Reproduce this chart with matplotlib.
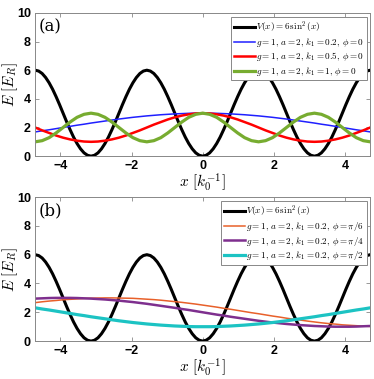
import matplotlib
matplotlib.use("Agg")
import matplotlib.pyplot as plt
import numpy as np

plt.rcParams['mathtext.fontset'] = 'cm'

# x grids (step pi/32 for the potential, pi/16 for the energy curves)
x_fine = np.linspace(-3*np.pi/2, 3*np.pi/2, 97)
x = np.linspace(-3*np.pi/2, 3*np.pi/2, 49)

V = [6.0, 5.94, 5.77, 5.49, 5.12, 4.67, 4.15, 3.59, 3.0, 2.41, 1.85, 1.33, 0.88, 0.51, 0.23, 0.06,
     0.0, 0.06, 0.23, 0.51, 0.88, 1.33, 1.85, 2.41, 3.0, 3.59, 4.15, 4.67, 5.12, 5.49, 5.77, 5.94,
     6.0, 5.94, 5.77, 5.49, 5.12, 4.67, 4.15, 3.59, 3.0, 2.41, 1.85, 1.33, 0.88, 0.51, 0.23, 0.06,
     0.0, 0.06, 0.23, 0.51, 0.88, 1.33, 1.85, 2.41, 3.0, 3.59, 4.15, 4.67, 5.12, 5.49, 5.77, 5.94,
     6.0, 5.94, 5.77, 5.49, 5.12, 4.67, 4.15, 3.59, 3.0, 2.41, 1.85, 1.33, 0.88, 0.51, 0.23, 0.06,
     0.0, 0.06, 0.23, 0.51, 0.88, 1.33, 1.85, 2.41, 3.0, 3.59, 4.15, 4.67, 5.12, 5.49, 5.77, 5.94,
     6.0]

# panel (a)
E_blue = [1.69, 1.77, 1.84, 1.92, 2.0, 2.08, 2.16, 2.23, 2.31, 2.38, 2.45, 2.52, 2.59, 2.65, 2.71, 2.76,
          2.81, 2.85, 2.89, 2.92, 2.95, 2.97, 2.99, 3.0, 3.0, 3.0, 2.99, 2.97, 2.95, 2.92, 2.89, 2.85,
          2.81, 2.76, 2.71, 2.65, 2.59, 2.52, 2.45, 2.38, 2.31, 2.23, 2.16, 2.08, 2.0, 1.92, 1.84, 1.77,
          1.69]
E_red = [2.0, 1.80, 1.62, 1.44, 1.29, 1.17, 1.08, 1.02, 1.0, 1.02, 1.08, 1.17, 1.29, 1.44, 1.62, 1.80,
         2.0, 2.20, 2.38, 2.56, 2.71, 2.83, 2.92, 2.98, 3.0, 2.98, 2.92, 2.83, 2.71, 2.56, 2.38, 2.20,
         2.0, 1.80, 1.62, 1.44, 1.29, 1.17, 1.08, 1.02, 1.0, 1.02, 1.08, 1.17, 1.29, 1.44, 1.62, 1.80,
         2.0]
E_green = [1.0, 1.08, 1.29, 1.62, 2.0, 2.38, 2.71, 2.92, 3.0, 2.92, 2.71, 2.38, 2.0, 1.62, 1.29, 1.08,
           1.0, 1.08, 1.29, 1.62, 2.0, 2.38, 2.71, 2.92, 3.0, 2.92, 2.71, 2.38, 2.0, 1.62, 1.29, 1.08,
           1.0, 1.08, 1.29, 1.62, 2.0, 2.38, 2.71, 2.92, 3.0, 2.92, 2.71, 2.38, 2.0, 1.62, 1.29, 1.08,
           1.0]

# panel (b)
E_orange = [2.67, 2.73, 2.78, 2.82, 2.87, 2.90, 2.93, 2.96, 2.98, 2.99, 3.0, 3.0, 2.99, 2.98, 2.97, 2.94,
            2.91, 2.88, 2.84, 2.79, 2.74, 2.69, 2.63, 2.57, 2.50, 2.43, 2.36, 2.28, 2.21, 2.13, 2.05, 1.97,
            1.90, 1.82, 1.74, 1.67, 1.59, 1.52, 1.46, 1.39, 1.33, 1.27, 1.22, 1.18, 1.13, 1.10, 1.07, 1.04,
            1.02]
E_purple = [2.95, 2.97, 2.99, 3.0, 3.0, 3.0, 2.99, 2.97, 2.95, 2.92, 2.89, 2.85, 2.81, 2.76, 2.71, 2.65,
            2.59, 2.52, 2.45, 2.38, 2.31, 2.23, 2.16, 2.08, 2.0, 1.92, 1.84, 1.77, 1.69, 1.62, 1.55, 1.48,
            1.41, 1.35, 1.29, 1.24, 1.19, 1.15, 1.11, 1.08, 1.05, 1.03, 1.01, 1.0, 1.0, 1.0, 1.01, 1.03,
            1.05]
E_cyan = [2.31, 2.23, 2.16, 2.08, 2.0, 1.92, 1.84, 1.77, 1.69, 1.62, 1.55, 1.48, 1.41, 1.35, 1.29, 1.24,
          1.19, 1.15, 1.11, 1.08, 1.05, 1.03, 1.01, 1.0, 1.0, 1.0, 1.01, 1.03, 1.05, 1.08, 1.11, 1.15,
          1.19, 1.24, 1.29, 1.35, 1.41, 1.48, 1.55, 1.62, 1.69, 1.77, 1.84, 1.92, 2.0, 2.08, 2.16, 2.23,
          2.31]

V_label = r"$V(x) = 6\,\sin^2(x)$"
labels_a = [r"$g = 1,\, a = 2,\, k_1 = 0.2,\, \phi = 0$",
            r"$g = 1,\, a = 2,\, k_1 = 0.5,\, \phi = 0$",
            r"$g = 1,\, a = 2,\, k_1 = 1,\, \phi = 0$"]
labels_b = [r"$g = 1,\, a = 2,\, k_1 = 0.2,\, \phi = \pi/6$",
            r"$g = 1,\, a = 2,\, k_1 = 0.2,\, \phi = \pi/4$",
            r"$g = 1,\, a = 2,\, k_1 = 0.2,\, \phi = \pi/2$"]

fig = plt.figure(figsize=(3.74, 3.79), dpi=100)
ax1 = fig.add_axes([0.094, 0.588, 0.896, 0.378])
ax2 = fig.add_axes([0.094, 0.100, 0.896, 0.380])


def style(ax, tag):
    ax.set_xlim(-3*np.pi/2, 3*np.pi/2)
    ax.set_ylim(0, 10)
    ax.set_xticks([-4, -2, 0, 2, 4])
    ax.set_yticks([0, 2, 4, 6, 8, 10])
    ax.tick_params(direction='in', length=3, width=0.6, color='#888888',
                   top=True, right=True, labelsize=9, pad=3)
    for lab in ax.get_xticklabels() + ax.get_yticklabels():
        lab.set_fontweight('bold')
        lab.set_family('Liberation Sans')
    for s in ax.spines.values():
        s.set_color('#888888')
        s.set_linewidth(0.7)
    ax.set_xlabel(r"$x\ [k_0^{-1}]$", fontsize=11, labelpad=-1)
    ax.set_ylabel(r"$E\ [E_R]$", fontsize=11, labelpad=-2)
    ax.text(0.01, 0.96, tag, transform=ax.transAxes, va='top', ha='left',
            fontsize=12, family='DejaVu Serif')
    leg = ax.legend(loc='upper right', fontsize=6.6, handlelength=2.3, handletextpad=0.1,
                    borderpad=0.3, labelspacing=0.15, borderaxespad=0.4, fancybox=False,
                    framealpha=1)
    leg.get_frame().set_edgecolor('#888888')
    leg.get_frame().set_linewidth(0.7)


ax1.plot(x_fine, V, color='black', lw=2.2, label=V_label)
ax1.plot(x, E_blue, color='#1f1fff', lw=1.1, label=labels_a[0])
ax1.plot(x, E_red, color='#ff0000', lw=1.8, label=labels_a[1])
ax1.plot(x, E_green, color='#77ac30', lw=2.3, label=labels_a[2])
style(ax1, '(a)')

ax2.plot(x_fine, V, color='black', lw=2.2, label=V_label)
ax2.plot(x, E_orange, color='#e8602a', lw=1.1, label=labels_b[0])
ax2.plot(x, E_purple, color='#7e2f8e', lw=1.8, label=labels_b[1])
ax2.plot(x, E_cyan, color='#1cc3c3', lw=2.3, label=labels_b[2])
style(ax2, '(b)')

fig.savefig('out.png', dpi=100)
